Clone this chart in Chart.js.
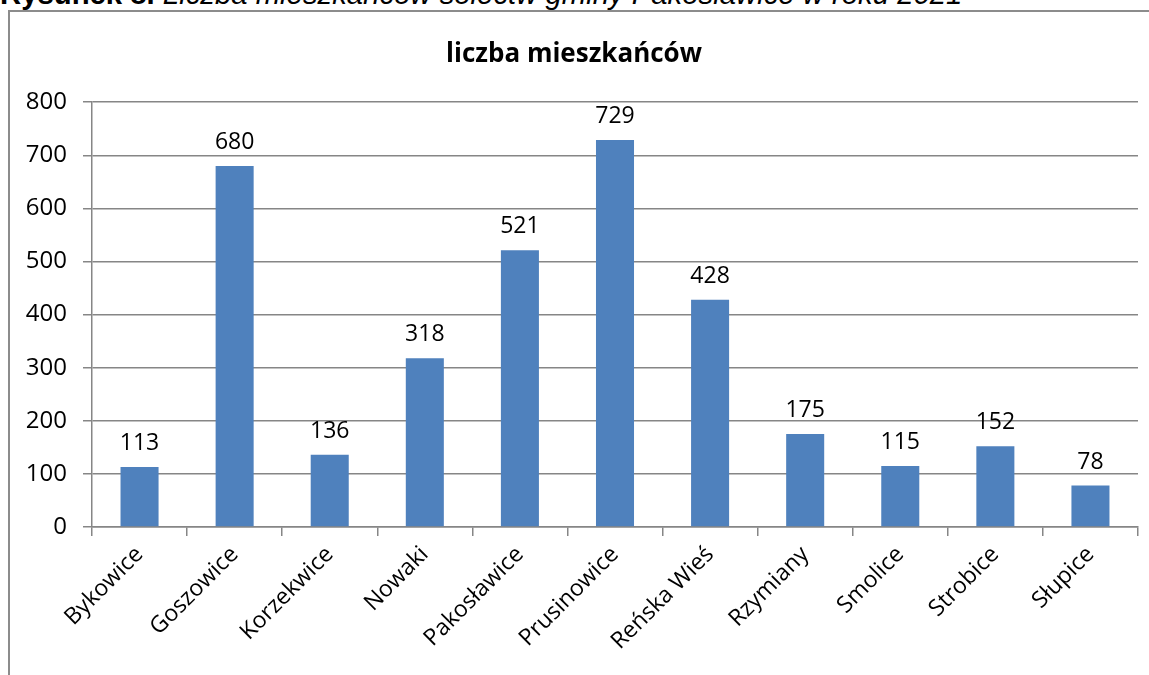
<!DOCTYPE html>
<html lang="pl">
<head>
<meta charset="utf-8">
<title>liczba mieszkańców</title>
<script src="https://cdn.jsdelivr.net/npm/chart.js@4/dist/chart.umd.min.js"></script>
<style>
  html, body { margin: 0; padding: 0; background: #fff; overflow: hidden; }
  body { width: 1149px; height: 675px; position: relative; }
  #caption {
    position: absolute; left: 0; top: -23px; white-space: nowrap;
    font: 29.3px "Liberation Sans", Arial, sans-serif; color: #000;
  }
  #caption b { font-weight: bold; }
  #caption i { font-style: italic; }
  #frame {
    position: absolute; left: 8px; top: 10px; right: -4px; bottom: -4px;
    border-left: 2px solid #8c8c8c; border-top: 2px solid #8c8c8c;
  }
  #wrap { position: absolute; left: 10px; top: 12px; width: 1139px; height: 663px; }
</style>
</head>
<body>
<div id="caption"><b>Rysunek 8.</b> <i>Liczba mieszkańców sołectw gminy Pakosławice w roku 2021</i></div>
<div id="frame"></div>
<div id="wrap"><canvas id="chart"></canvas></div>
<script>
"use strict";

const CATEGORIES = [
  "Bykowice", "Goszowice", "Korzekwice", "Nowaki", "Pakosławice", "Prusinowice",
  "Reńska Wieś", "Rzymiany", "Smolice", "Strobice", "Słupice",
];
const RESIDENTS = [113, 680, 136, 318, 521, 729, 428, 175, 115, 152, 78];
const Y_TICKS = [0, 100, 200, 300, 400, 500, 600, 700, 800];

const FONT = '"Open Sans", "Noto Sans", sans-serif';
const GRID = "#868686";

Chart.defaults.font.family = FONT;
Chart.defaults.color = "#000";
Chart.defaults.maintainAspectRatio = false;
Chart.defaults.animation = false;

/* Value labels above each bar, Excel style. */
const barValues = {
  id: "barValues",
  afterDatasetsDraw(chart) {
    const { ctx } = chart;
    const meta = chart.getDatasetMeta(0);
    ctx.save();
    ctx.font = `23px ${FONT}`;
    ctx.fillStyle = "#000";
    ctx.textAlign = "center";
    ctx.textBaseline = "alphabetic";
    meta.data.forEach((bar, i) => {
      ctx.fillText(String(RESIDENTS[i]), bar.x, bar.y - 17);
    });
    ctx.restore();
  },
};

new Chart(document.getElementById("chart"), {
  type: "bar",
  data: {
    labels: CATEGORIES,
    datasets: [{
      label: "liczba mieszkańców",
      data: RESIDENTS,
      backgroundColor: "#4f81bd",
      barPercentage: 0.4,
      categoryPercentage: 1,
    }],
  },
  plugins: [barValues],
  options: {
    layout: { padding: { left: 0, right: 11, top: 0, bottom: 0 } },
    plugins: {
      legend: { display: false },
      tooltip: { enabled: false },
      title: {
        display: true,
        text: "liczba mieszkańców",
        color: "#000",
        font: { size: 26, weight: "bold", family: FONT },
        padding: { top: 27, bottom: 32 },
      },
    },
    scales: {
      x: {
        afterFit: (s) => { s.height = 148; },
        grid: { drawOnChartArea: false, drawTicks: true, tickLength: 9, color: GRID, lineWidth: 1.5, offset: true },
        border: { color: GRID, width: 1.5 },
        ticks: { font: { size: 23 }, maxRotation: 45, minRotation: 45, padding: 5, autoSkip: false },
      },
      y: {
        min: 0,
        max: 800,
        afterFit: (s) => { s.width = 82; },
        afterBuildTicks: (s) => { s.ticks = Y_TICKS.map((v) => ({ value: v })); },
        grid: { color: GRID, lineWidth: 1.5, tickLength: 9 },
        border: { color: GRID, width: 1.5 },
        ticks: { font: { size: 24 }, padding: 16 },
      },
    },
  },
});
</script>
</body>
</html>
